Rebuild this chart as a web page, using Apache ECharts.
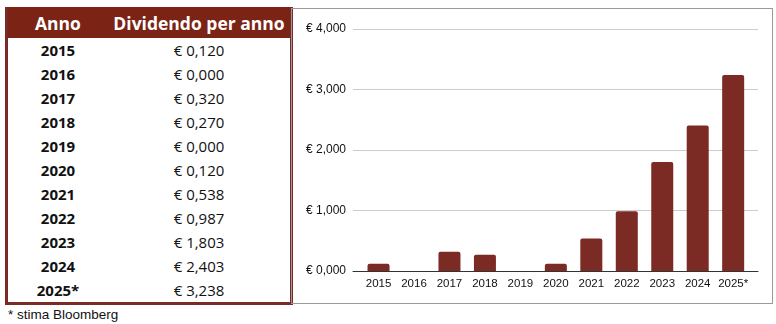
<!DOCTYPE html>
<html>
<head>
<meta charset="utf-8">
<script src="https://cdn.jsdelivr.net/npm/echarts@6/dist/echarts.min.js"></script>
<style>
  body { margin: 0; background: #fff; width: 776px; height: 324px; position: relative; overflow: hidden; }
  #tbl {
    position: absolute; left: 5px; top: 7px; width: 288px; height: 297px;
    box-sizing: border-box; border: 3px solid #7b2a24; border-top: none;
    border-collapse: collapse; font-family: "Open Sans", sans-serif; color: #111;
  }
  #tbl th { background: #7b2416; color: #fff; font-size: 17.5px; font-weight: 700; height: 31px; padding: 0; }
  #tbl td { text-align: center; font-size: 15px; height: 24px; padding: 0; }
  #tbl td.y { font-weight: 700; }
  #chart {
    position: absolute; left: 291px; top: 8px; width: 482px; height: 296px;
    box-sizing: border-box; border: 1px solid #9a9a9a;
  }
  #note { position: absolute; left: 8px; top: 307px; font: 13.5px "Liberation Sans", Arial, sans-serif; color: #111; }
</style>
</head>
<body>
<table id="tbl"><thead><tr><th style="width:100px">Anno</th><th>Dividendo per anno</th></tr></thead><tbody></tbody></table>
<div id="chart"></div>
<div id="note">* stima Bloomberg</div>
<script>
const years = ["2015", "2016", "2017", "2018", "2019", "2020", "2021", "2022", "2023", "2024", "2025*"];
const dividends = [0.12, 0, 0.32, 0.27, 0, 0.12, 0.538, 0.987, 1.803, 2.403, 3.238];

const euro = (v) => "€ " + v.toFixed(3).replace(".", ",");

const tbody = document.querySelector("#tbl tbody");
years.forEach((y, i) => {
  const tr = document.createElement("tr");
  tr.innerHTML = `<td class="y">${y}</td><td>${euro(dividends[i])}</td>`;
  tbody.appendChild(tr);
});

const chart = echarts.init(document.getElementById("chart"));
chart.setOption({
  animation: false,
  grid: { left: 61, right: 14, top: 20, bottom: 32 },
  xAxis: {
    type: "value",
    min: -0.72,
    max: 10.7,
    splitLine: { show: false },
    axisTick: { show: false },
    axisLine: { show: true, lineStyle: { color: "#333", width: 1 } },
    axisLabel: {
      customValues: years.map((_, i) => i),
      formatter: (v) => years[Math.round(v)],
      color: "#111",
      fontSize: 11.5,
      fontFamily: "Liberation Sans, Arial",
      margin: 7,
      showMinLabel: true,
      showMaxLabel: true,
    },
  },
  yAxis: {
    type: "value",
    min: 0,
    max: 4,
    interval: 1,
    axisLine: { show: false },
    axisTick: { show: false },
    splitLine: { lineStyle: { color: "#cccccc" } },
    axisLabel: {
      formatter: (v) => euro(v),
      color: "#111",
      fontSize: 12,
      fontFamily: "Liberation Sans, Arial",
      margin: 7,
    },
  },
  series: [
    {
      type: "bar",
      barWidth: 22,
      data: dividends.map((v, i) => [i, v]),
      itemStyle: { color: "#7b2a24", borderRadius: [2, 2, 0, 0] },
    },
  ],
});
</script>
</body>
</html>
